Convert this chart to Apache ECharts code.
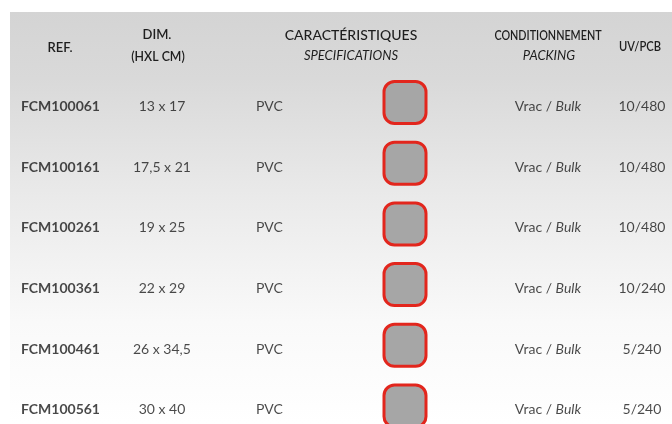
<!DOCTYPE html>
<html>
<head>
<meta charset="utf-8">
<script src="https://cdn.jsdelivr.net/npm/echarts@6/dist/echarts.min.js"></script>
<style>
html,body{margin:0;padding:0;background:#ffffff;}
#chart{width:672px;height:424px;}
</style>
</head>
<body>
<div id="chart"></div>
<script>
// ---- data ----
var refs = ['FCM100061','FCM100161','FCM100261','FCM100361','FCM100461','FCM100561'];
var dims = ['13 x 17','17,5 x 21','19 x 25','22 x 29','26 x 34,5','30 x 40'];
var materials = ['PVC','PVC','PVC','PVC','PVC','PVC'];
var packingFr = ['Vrac','Vrac','Vrac','Vrac','Vrac','Vrac'];
var packingEn = ['Bulk','Bulk','Bulk','Bulk','Bulk','Bulk'];
var uvpcb = ['10/480','10/480','10/480','10/240','5/240','5/240'];
var headers = ['REF.', 'DIM.', '(HXL CM)', 'CARACTÉRISTIQUES', 'SPECIFICATIONS', 'CONDITIONNEMENT', 'PACKING', 'UV/PCB'];

// ---- layout (column anchors along the x axis) ----
var colRef = 21, colDim = 162, colMat = 256, colSwatch = 405, colPack = 548, colUv = 642;
var FONT = 'Lato, "Open Sans", sans-serif';

function textSeries(col, values, align) {
  return {
    type: 'scatter',
    symbolSize: 0.1,
    itemStyle: { color: 'rgba(0,0,0,0)' },
    data: values.map(function (v, i) { return { value: [col, i], name: v }; }),
    label: {
      show: true,
      position: [0, 2],
      align: align,
      verticalAlign: 'middle',
      formatter: function (p) { return p.name; },
      color: '#1c1c1c',
      fontFamily: FONT,
      fontSize: 14
    },
    silent: true
  };
}

var chart = echarts.init(document.getElementById('chart'), null, { renderer: 'canvas' });

var seriesList = [];
var sRef = textSeries(colRef, refs, 'left');
sRef.label.fontWeight = 'bold'; sRef.label.color = '#1a1a1a';
seriesList.push(sRef);
seriesList.push(textSeries(colDim, dims, 'center'));
seriesList.push(textSeries(colMat, materials, 'left'));
var sPack = textSeries(colPack, packingFr.map(function (f, i) { return f + '|' + packingEn[i]; }), 'center');
sPack.label.formatter = function (p) {
  var parts = p.name.split('|');
  return '{r|' + parts[0] + ' / }{i|' + parts[1] + '}';
};
sPack.label.rich = {
  r: { fontFamily: FONT, fontSize: 14, color: '#1c1c1c' },
  i: { fontFamily: FONT, fontSize: 14, color: '#1c1c1c', fontStyle: 'italic' }
};
seriesList.push(sPack);
seriesList.push(textSeries(colUv, uvpcb, 'center'));
// swatches
seriesList.push({
  type: 'scatter',
  symbol: 'roundRect',
  symbolSize: 42,
  symbolOffset: [0, -2],
  data: refs.map(function (r, i) { return [colSwatch, i]; }),
  itemStyle: { color: '#a6a6a6', borderColor: '#e2261d', borderWidth: 3, opacity: 1 },
  silent: true
});

function headerText(x, y, text, font, scaleX) {
  return {
    type: 'text',
    x: x, y: y,
    scaleX: scaleX || 1,
    style: {
      text: text,
      fill: '#1e1e1e',
      font: font,
      textAlign: 'center',
      textVerticalAlign: 'middle'
    }
  };
}

chart.setOption({
  animation: false,
  backgroundColor: '#ffffff',
  grid: { left: 0, right: 0, top: 104.5, bottom: 16 },
  xAxis: { type: 'value', min: 0, max: 672, show: false },
  yAxis: { type: 'value', min: 0, max: 5, inverse: true, show: false },
  graphic: [
    {
      type: 'rect',
      z: -10,
      shape: { x: 10, y: 12, width: 662, height: 412 },
      style: {
        fill: {
          type: 'linear', x: 0, y: 0, x2: 0, y2: 1,
          colorStops: [
            { offset: 0, color: '#d4d4d4' },
            { offset: 0.16, color: '#d9d9d9' },
            { offset: 0.45, color: '#eaeaea' },
            { offset: 0.75, color: '#f9f9f9' },
            { offset: 1, color: '#ffffff' }
          ]
        }
      }
    },
    headerText(60, 48, headers[0], '600 13px ' + FONT),
    headerText(157, 35, headers[1], '600 13px ' + FONT),
    headerText(158, 57, headers[2], '600 13px ' + FONT, 0.95),
    headerText(351, 35, headers[3], '500 14px ' + FONT),
    headerText(351, 56, headers[4], 'italic 13px ' + FONT),
    headerText(548, 35, headers[5], '600 14px ' + FONT, 0.77),
    headerText(549, 56, headers[6], 'italic 13px ' + FONT),
    headerText(640, 46, headers[7], '600 14px ' + FONT, 0.8)
  ],
  series: seriesList
});
</script>
</body>
</html>
